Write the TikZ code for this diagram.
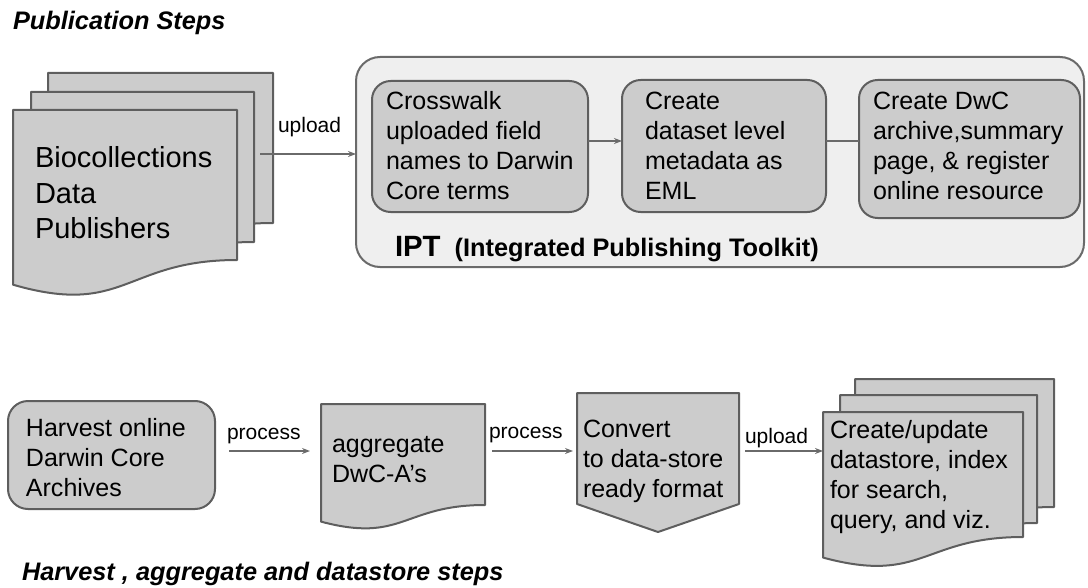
\documentclass[tikz,border=0pt]{standalone}
\usepackage{fontspec}
\setmainfont{Liberation Sans}
\usetikzlibrary{arrows.meta,calc,fit}
\definecolor{boxc}{HTML}{CCCCCC}
\definecolor{iptc}{HTML}{EFEFEF}
\definecolor{bordc}{HTML}{5E5E5E}
\definecolor{arrc}{HTML}{6A6A6A}
\newcommand\mainsz{\fontsize{18.75pt}{22.5pt}\selectfont}
\newcommand\biosz{\fontsize{21.75pt}{26.25pt}\selectfont}
\newcommand\lblsz{\fontsize{15.75pt}{18pt}\selectfont}
\newcommand\ttlsz{\fontsize{19pt}{22pt}\selectfont}
\newcommand\lines[1]{\begin{tabular}[t]{@{}l@{}}#1\end{tabular}}
\newcommand\docdraw[1]{\draw[docshape] (#1.north west) -- (#1.north east) -- (#1.south east)
  .. controls (#1.south) and ($(#1.north)!1.381!(#1.south)$) .. ($(#1.north west)!1.1646!(#1.south west)$) -- cycle;}
\tikzset{
  rim/.style={draw=none, inner sep=0pt, outer sep=0pt},
  box/.style={draw=bordc, fill=boxc, line width=1.5pt, rounded corners=14pt, inner sep=0pt, outer sep=0pt},
  iptbox/.style={draw=arrc, fill=iptc, line width=1.5pt, rounded corners=18pt, inner sep=0pt, outer sep=0pt},
  docshape/.style={draw=bordc, fill=boxc, line width=1.5pt, line join=round},
  conn/.style={draw=arrc, line width=1pt, -{Stealth[length=6pt,width=4.5pt]}},
  plainconn/.style={draw=arrc, line width=1pt},
  txt/.style={inner sep=0pt, outer sep=0pt, anchor=base west, text=black, font=\mainsz},
  lbl/.style={inner sep=0pt, outer sep=0pt, anchor=base west, text=black, font=\lblsz},
  ttl/.style={inner sep=0pt, outer sep=0pt, anchor=base west, text=black, font=\ttlsz\bfseries\itshape}
}
\begin{document}
\begin{tikzpicture}[x=0.75pt,y=-0.75pt]
\useasboundingbox (0,0) rectangle (1088,588);

% titles
\node[ttl] (ttltop) at (13,30) {Publication Steps};
\node[ttl] (ttlbot) at (22,580) {Harvest , aggregate and datastore steps};

% publishers stack
\node[rim, fit={(48,73) (273,223)}] (pubback) {};
\node[rim, fit={(31,92) (254,242)}] (pubmid) {};
\node[rim, fit={(13,110) (237,260)}] (pubfront) {};
\docdraw{pubback}
\docdraw{pubmid}
\docdraw{pubfront}
\node[txt, font=\biosz] (pubtxt) at (35,168) {\lines{Biocollections\\Data\\Publishers}};

% IPT
\node[iptbox, fit={(356,57) (1084,267)}] (ipt) {};
\node[box, fit={(372,81) (588,212)}] (b1) {};
\node[box, fit={(622,80) (826,212)}] (b2) {};
\node[box, fit={(859,80) (1080,218)}] (b3) {};
\node[txt] (b1t) at (386,110) {\lines{Crosswalk\\uploaded field\\names to Darwin\\Core terms}};
\node[txt] (b2t) at (645,110) {\lines{Create\\dataset level\\metadata as\\EML}};
\node[txt] (b3t) at (873,110) {\lines{Create DwC\\archive,summary\\page, \& register\\online resource}};
\node[txt] (ipttxt) at (395,256) {{\fontsize{22pt}{24pt}\selectfont\bfseries IPT}\hspace{10.5pt}{\fontsize{19pt}{22pt}\selectfont\bfseries (Integrated Publishing Toolkit)}};
\coordinate (r1) at (0,141);
\draw[conn] (b1.east |- r1) -- (b2.west |- r1);
\draw[plainconn] (b2.east |- r1) -- (b3.west |- r1);

% upload (top)
\coordinate (r0) at (0,154);
\node[lbl] (uplA) at (278,133) {upload};
\draw[conn, shorten <=17.25pt] (pubfront.east |- r0) -- (ipt.west |- r0);

% bottom row
\node[box, rounded corners=15pt, fit={(8,401) (215,509)}] (harv) {};
\node[txt] (harvt) at (26,436) {\lines{Harvest online\\Darwin Core\\Archives}};

\node[rim, fit={(321,404) (485,505)}] (agg) {};
\docdraw{agg}
\node[txt] (aggt) at (332,452) {\lines{aggregate\\DwC-A’s}};

\node[rim, fit={(577,393) (739,504)}] (conv) {};
\draw[docshape] (conv.north west) -- (conv.north east) -- (conv.south east) -- ($(conv.south)+(0,28)$) -- (conv.south west) -- cycle;
\node[txt] (convt) at (583,437) {\lines{Convert\\to data-store\\ready format}};

\node[rim, fit={(855,379) (1054,507)}] (stkback) {};
\node[rim, fit={(840,395) (1037,523)}] (stkmid) {};
\node[rim, fit={(823,412) (1023,537)}] (stkfront) {};
\docdraw{stkback}
\docdraw{stkmid}
\docdraw{stkfront}
\node[txt] (stkt) at (830,438) {\lines{Create/update\\datastore, index\\for search,\\query, and viz.}};

\coordinate (r2) at (0,451);
\node[lbl] (procA) at (227,439) {process};
\draw[conn, shorten <=10.5pt, shorten >=8.25pt] (harv.east |- r2) -- (agg.west |- r2);
\node[lbl] (procB) at (489,438) {process};
\draw[conn, shorten <=5.25pt, shorten >=3pt] (agg.east |- r2) -- (conv.west |- r2);
\node[lbl] (uplB) at (745,443) {upload};
\draw[conn, shorten <=4.5pt] (conv.east |- r2) -- (stkfront.west |- r2);
\end{tikzpicture}
\end{document}
